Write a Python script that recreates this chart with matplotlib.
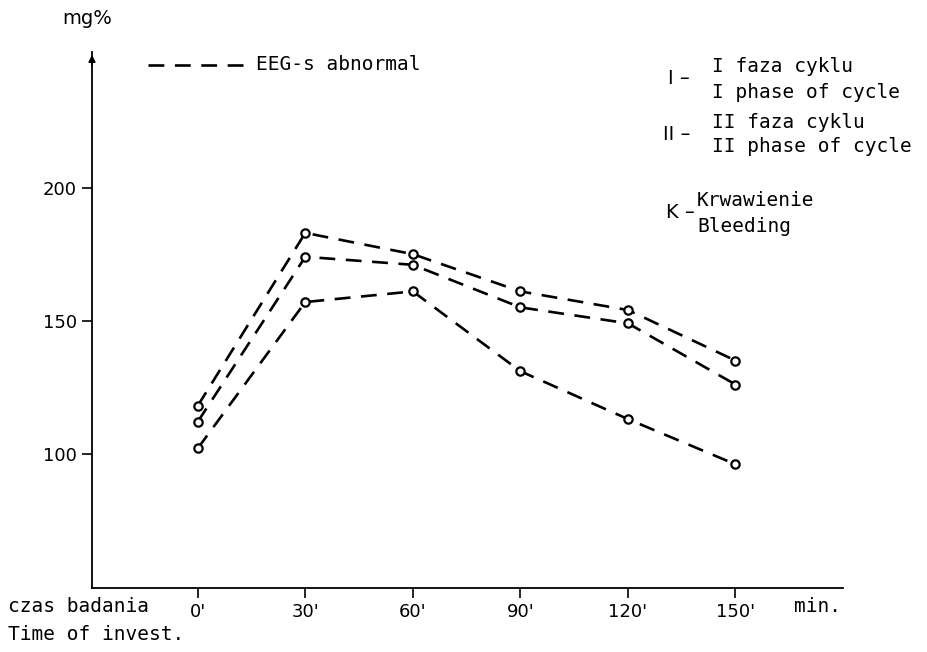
import matplotlib.pyplot as plt

# Time of investigation (min) and blood sugar (mg%)
minutes = [0, 30, 60, 90, 120, 150]
tick_labels = ["0'", "30'", "60'", "90'", "120'", "150'"]
series_upper = [118, 183, 175, 161, 154, 135]
series_middle = [112, 174, 171, 155, 149, 126]
series_lower = [102, 157, 161, 131, 113, 96]
y_ticks = [100, 150, 200]

W, H = 928, 652
fig = plt.figure(figsize=(W / 100, H / 100), dpi=100)
plt.rcParams['font.family'] = 'DejaVu Sans'

# axes box in pixel terms
left, right, top, bottom = 92, 843, 52, 588
ax = fig.add_axes([left / W, 1 - bottom / H, (right - left) / W, (bottom - top) / H])

line_style = dict(color='black', linestyle=(0, (6, 4)), linewidth=1.9,
                  marker='o', markersize=6, markerfacecolor='white',
                  markeredgecolor='black', markeredgewidth=1.6)
for s in (series_upper, series_middle, series_lower):
    ax.plot(minutes, s, **line_style)

ax.set_xlim(-29.5, 180)
ax.set_ylim(49.5, 251)
ax.spines['top'].set_visible(False)
ax.spines['right'].set_visible(False)
ax.spines['left'].set_linewidth(1.3)
ax.spines['bottom'].set_linewidth(1.3)

ax.set_yticks(y_ticks)
ax.set_yticklabels([str(v) for v in y_ticks], fontsize=13)
ax.set_xticks(minutes)
ax.set_xticklabels(tick_labels, fontsize=13)
ax.tick_params(direction='out', length=7, width=1.2, pad=4)

# arrow head on the y axis
ax.annotate('', xy=(0, 1.0), xycoords='axes fraction', xytext=(0, 0.97),
            arrowprops=dict(arrowstyle='-|>', color='black', lw=1.2,
                            mutation_scale=10))


def px_text(x, y, s, size=14, family='DejaVu Sans Mono', **kw):
    fig.text(x / W, 1 - y / H, s, fontsize=size, family=family, va='center', **kw)


px_text(62, 18, "mg%", family='DejaVu Sans')
px_text(8, 607, "czas badania")
px_text(794, 607, "min.")
px_text(8, 634, "Time of invest.")

# legend for line type
fig.add_artist(plt.Line2D([148 / W, 245 / W], [1 - 65 / H, 1 - 65 / H],
                          color='black', linestyle=(0, (6, 4)), linewidth=1.9))
px_text(256, 64, "EEG-s abnormal")

# group legend on the right
px_text(668, 79, "I –", family='DejaVu Sans')
px_text(712, 67, "I faza cyklu")
px_text(712, 93, "I phase of cycle")
px_text(663, 134, "II –", family='DejaVu Sans')
px_text(712, 122, "II faza cyklu")
px_text(712, 147, "II phase of cycle")
px_text(666, 213, "K –", family='DejaVu Sans')
px_text(697, 201, "Krwawienie")
px_text(697, 226, "Bleeding")

fig.savefig("out.png", dpi=100)
